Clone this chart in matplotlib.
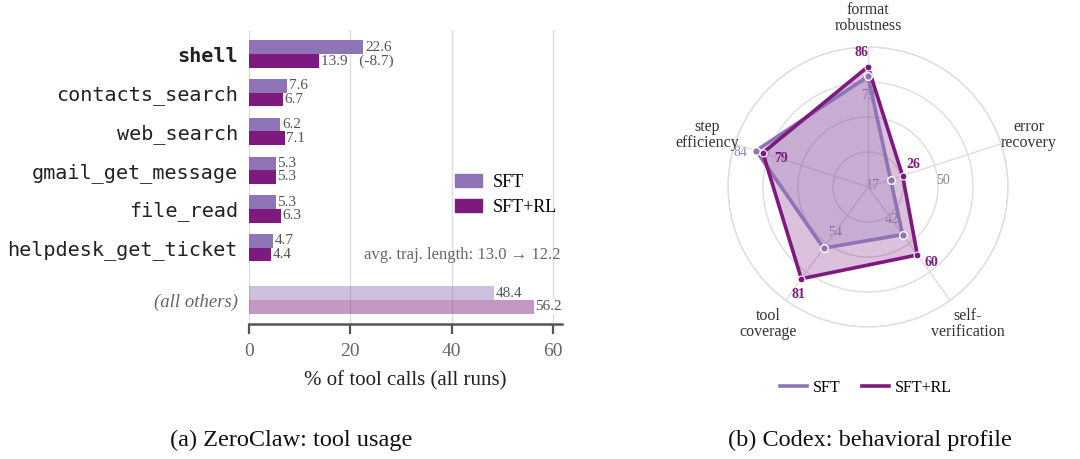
import numpy as np
import matplotlib
matplotlib.use("Agg")
import matplotlib.pyplot as plt
from matplotlib.patches import Patch
from matplotlib.lines import Line2D

plt.rcParams['font.family'] = ['Liberation Serif', 'DejaVu Serif']

# ---- data: (a) tool usage ----
tools = ["shell", "contacts_search", "web_search", "gmail_get_message",
         "file_read", "helpdesk_get_ticket"]
sft_usage = [22.6, 7.6, 6.2, 5.3, 5.3, 4.7]
rl_usage = [13.9, 6.7, 7.1, 5.3, 6.3, 4.4]
others_label = "(all others)"
others_sft = 48.4
others_rl = 56.2
traj_sft = 13.0
traj_rl = 12.2

# ---- data: (b) behavioral profile ----
axes_names = ["format\nrobustness", "error\nrecovery", "self-\nverification",
              "tool\ncoverage", "step\nefficiency"]
sft_profile = [79, 17, 42, 54, 84]
rl_profile = [86, 26, 60, 81, 79]

C_SFT = "#8e74b6"
C_RL = "#7e1a7e"

fig = plt.figure(figsize=(10.8, 4.59), dpi=100)

# ---------------- left: bar chart ----------------
ax = fig.add_axes([249 / 1080, 1 - 324 / 459, (562 - 249) / 1080, (324 - 30) / 459])
h = 0.35
ypos = np.arange(len(tools), dtype=float)
y_oth = len(tools) + 0.35

ax.barh(ypos - h / 2, sft_usage, height=h, color=C_SFT, zorder=2)
ax.barh(ypos + h / 2, rl_usage, height=h, color=C_RL, zorder=2)
ax.barh(y_oth - h / 2, others_sft, height=h, color=C_SFT, alpha=0.45, zorder=2, lw=0)
ax.barh(y_oth + h / 2, others_rl, height=h, color=C_RL, alpha=0.45, zorder=2, lw=0)

lab_kw = dict(va="center", ha="left", fontsize=11, color="#555555", zorder=3)
for i in range(len(tools)):
    ax.text(sft_usage[i] + 0.3, ypos[i] - h / 2, f"{sft_usage[i]:.1f}", **lab_kw)
    txt = f"{rl_usage[i]:.1f}"
    if i == 0:
        txt += f"   ({rl_usage[i] - sft_usage[i]:.1f})"
    ax.text(rl_usage[i] + 0.3, ypos[i] + h / 2, txt, **lab_kw)
bb = dict(facecolor="white", edgecolor="none", pad=0.5)
ax.text(others_sft + 0.3, y_oth - h / 2, f"{others_sft:.1f}", bbox=bb, **lab_kw)
ax.text(others_rl + 0.3, y_oth + h / 2, f"{others_rl:.1f}", bbox=bb, **lab_kw)

ax.text(61.5, 5.2, f"avg. traj. length: {traj_sft:.1f} \u2192 {traj_rl:.1f}",
        ha="right", va="center", fontsize=12, color="#666666",
        family=['Liberation Serif', 'DejaVu Sans'])

ax.set_xlim(0, 61.8)
ax.set_ylim(y_oth + 0.62, -0.62)
ax.set_xticks([0, 20, 40, 60])
ax.grid(axis="x", color="#dddddd", lw=1, zorder=0)
ax.set_axisbelow(True)
for s in ["left", "right", "top"]:
    ax.spines[s].set_visible(False)
ax.spines["bottom"].set_color("#555555")
ax.spines["bottom"].set_linewidth(1.8)
ax.tick_params(axis="x", colors="#555555", labelcolor="#666666", labelsize=14,
               length=7, width=1.6, pad=7)
ax.set_xlabel("% of tool calls (all runs)", fontsize=15, color="#222222", labelpad=8)

ax.set_yticks(list(ypos) + [y_oth])
ax.set_yticklabels(tools + [others_label])
ax.tick_params(axis="y", length=0, pad=8)
for i, t in enumerate(ax.get_yticklabels()):
    if i < len(tools):
        t.set_family("DejaVu Sans Mono")
        t.set_fontsize(14.5)
        t.set_color("#222222")
        if i == 0:
            t.set_fontweight("bold")
    else:
        t.set_fontstyle("italic")
        t.set_fontsize(13.5)
        t.set_color("#666666")

ax.legend(handles=[Patch(color=C_SFT, label="SFT"), Patch(color=C_RL, label="SFT+RL")],
          loc="upper left", bbox_to_anchor=(455 / 1080, 1 - 174 / 459),
          bbox_transform=fig.transFigure, frameon=False, fontsize=13,
          handlelength=1.5, handleheight=0.75, labelspacing=0.45,
          handletextpad=0.6, borderpad=0, borderaxespad=0)

fig.text(291 / 1080, 1 - 440 / 459, "(a) ZeroClaw: tool usage", ha="center",
         va="center", fontsize=17.5, color="#111111")

# ---------------- right: radar ----------------
cx, cy, R = 868, 187, 140
rax = fig.add_axes([(cx - R) / 1080, 1 - (cy + R) / 459, 2 * R / 1080, 2 * R / 459],
                   projection="polar")
n = len(axes_names)
theta = np.deg2rad(np.arange(n) * 360 / n)
rax.set_theta_zero_location("N")
rax.set_theta_direction(-1)
rax.set_ylim(0, 100)
rax.set_rgrids([25, 50, 75, 100], labels=["", "", "", ""])
rax.set_thetagrids(np.degrees(theta), labels=[""] * n)
rax.grid(color="#dddddd", lw=1)
rax.spines["polar"].set_color("#dddddd")
rax.spines["polar"].set_linewidth(1)
rax.set_facecolor("none")

tc = np.append(theta, theta[0])
sft_c = np.append(sft_profile, sft_profile[0])
rl_c = np.append(rl_profile, rl_profile[0])
rax.fill(tc, rl_c, color=C_RL, alpha=0.27, lw=0, zorder=2)
rax.fill(tc, sft_c, color=C_SFT, alpha=0.25, lw=0, zorder=2)
rax.plot(tc, sft_c, color=C_SFT, lw=2.6, zorder=3)
rax.plot(tc, rl_c, color=C_RL, lw=2.6, zorder=4)
rax.plot(theta, sft_profile, "o", ms=5.5, mfc=C_SFT, mec="white", mew=1, zorder=5)
rax.plot(theta, rl_profile, "o", ms=5, mfc=C_RL, mec="white", mew=0.8, zorder=6)

rax.text(np.deg2rad(85), 54, "50", ha="center", va="center", fontsize=10,
         color="#888888")

for i in range(n):
    th = theta[i]
    rad = np.array([np.sin(th), np.cos(th)])      # outward, screen up
    ccw = np.array([-np.cos(th), np.sin(th)])     # counter-clockwise
    for vals, col, w, other in [(sft_profile, C_SFT, "normal", rl_profile),
                                (rl_profile, C_RL, "bold", sft_profile)]:
        v = vals[i]
        if v >= other[i]:
            off = 14 * rad + 7 * ccw
        else:
            off = -19 * rad
        rax.annotate(str(v), (th, v), xytext=tuple(off), textcoords="offset pixels",
                     ha="center", va="center", fontsize=10, color=col,
                     fontweight=w, zorder=7 if w == "bold" else 1,
                     alpha=1 if w == "bold" else 0.9)
    rax.text(th, 121, axes_names[i], ha="center", va="center", fontsize=11.5,
             color="#333333", linespacing=1.0)

fig.legend(handles=[Line2D([], [], color=C_SFT, lw=2.6, label="SFT"),
                    Line2D([], [], color=C_RL, lw=2.6, label="SFT+RL")],
           loc="center", bbox_to_anchor=(866 / 1080, 1 - 388 / 459), ncol=2,
           frameon=False, fontsize=11.5, handlelength=1.7, columnspacing=1.3,
           handletextpad=0.4)

fig.text(870 / 1080, 1 - 440 / 459, "(b) Codex: behavioral profile", ha="center",
         va="center", fontsize=17.5, color="#111111")

fig.savefig("out.png", dpi=100)
